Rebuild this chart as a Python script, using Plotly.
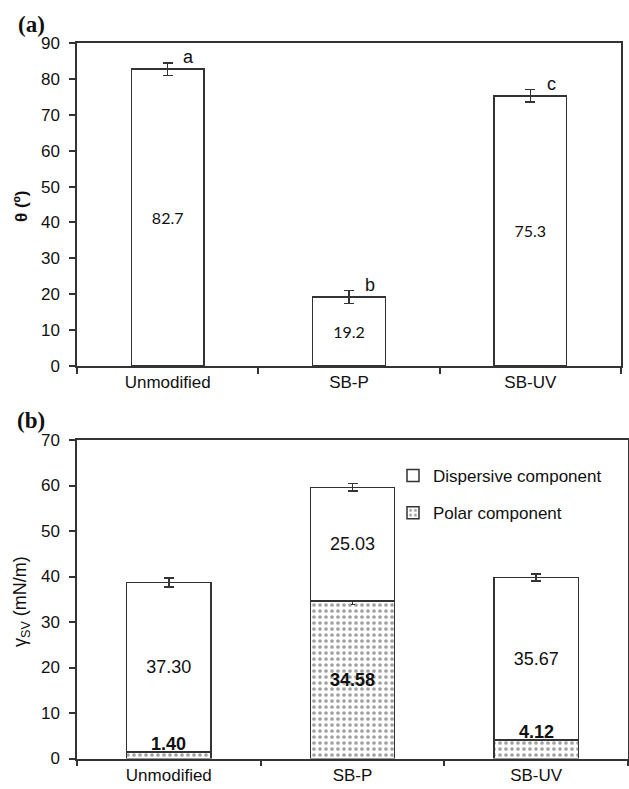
import plotly.graph_objects as go

categories = ["Unmodified", "SB-P", "SB-UV"]

# Panel (a): contact angle
theta = [82.7, 19.2, 75.3]
theta_err = [1.7, 1.8, 1.8]
theta_letters = ["a", "b", "c"]

# Panel (b): surface free energy components
polar = [1.40, 34.58, 4.12]
polar_err = [0.0, 0.8, 0.0]
dispersive = [37.30, 25.03, 35.67]
total_err = [1.0, 0.8, 0.75]

LINE = "#333333"
SANS = "Liberation Sans, Arial, sans-serif"
TICKFONT = dict(family=SANS, size=17, color="#111111")

fig = go.Figure()

# ---- panel (a)
fig.add_trace(go.Bar(
    x=categories, y=theta, width=0.4,
    marker=dict(color="white", line=dict(color=LINE, width=1.5)),
    error_y=dict(type="data", array=theta_err, color=LINE, thickness=1.5, width=5),
    text=[f"{v:.1f}" for v in theta], textposition="inside", insidetextanchor="middle",
    textfont=dict(family="Lato, Open Sans, sans-serif", size=16, color="#111111"),
    showlegend=False, xaxis="x", yaxis="y", hoverinfo="skip",
))

# ---- panel (b)
fig.add_trace(go.Bar(
    x=categories, y=polar, width=0.46, name="Polar component",
    legendgroup="p", legendrank=2,
    marker=dict(color="white", line=dict(color=LINE, width=1.5),
                pattern=dict(shape=".", fgcolor="#444444", bgcolor="white",
                             size=6, solidity=0.3)),
    error_y=dict(type="data", array=polar_err, color=LINE, thickness=1.2, width=2),
    text=[f"{v:.2f}" for v in polar],
    textposition=["none" if v < 10 else "inside" for v in polar],
    insidetextanchor="middle",
    textfont=dict(family=SANS, size=18, color="#111111", weight="bold"),
    xaxis="x2", yaxis="y2", hoverinfo="skip",
))
fig.add_trace(go.Bar(
    x=categories, y=dispersive, width=0.46, name="Dispersive component",
    legendgroup="d", legendrank=1,
    marker=dict(color="white", line=dict(color=LINE, width=1.5)),
    error_y=dict(type="data", array=total_err, color=LINE, thickness=1.5, width=5),
    text=[f"{v:.2f}" for v in dispersive], textposition="inside", insidetextanchor="middle",
    textfont=dict(family=SANS, size=18, color="#111111"),
    xaxis="x2", yaxis="y2", hoverinfo="skip",
))

annotations = []
# significance letters
for c, v, e, L in zip(categories, theta, theta_err, theta_letters):
    annotations.append(dict(x=c, y=v, xref="x", yref="y", text=L, showarrow=False,
                            xanchor="center", yanchor="bottom", xshift=21, yshift=0,
                            font=dict(family=SANS, size=18, color="#111111")))
# small polar labels above bars
for c, v in zip(categories, polar):
    if v < 10:
        annotations.append(dict(x=c, y=v, xref="x2", yref="y2", text=f"{v:.2f}",
                                showarrow=False, yanchor="bottom", yshift=-4,
                                font=dict(family=SANS, size=18, color="#111111",
                                          weight="bold")))
# panel labels
annotations.append(dict(x=31/629, y=1-24/789, xref="paper", yref="paper", text="<b>(a)</b>",
                        showarrow=False, xanchor="center", yanchor="middle",
                        font=dict(family="Liberation Serif, Times New Roman, serif", size=23,
                                  color="#111111")))
annotations.append(dict(x=31/629, y=1-420/789, xref="paper", yref="paper", text="<b>(b)</b>",
                        showarrow=False, xanchor="center", yanchor="middle",
                        font=dict(family="Liberation Serif, Times New Roman, serif", size=23,
                                  color="#111111")))
# axis titles
annotations.append(dict(x=21/629, y=1-207/789, xref="paper", yref="paper", text="<b>θ (º)</b>",
                        showarrow=False, textangle=-90, xanchor="center", yanchor="middle",
                        font=dict(family=SANS, size=17, color="#111111")))
annotations.append(dict(x=21/629, y=1-602/789, xref="paper", yref="paper",
                        text="γ<sub>SV</sub> (mN/m)",
                        showarrow=False, textangle=-90, xanchor="center", yanchor="middle",
                        font=dict(family=SANS, size=18, color="#111111")))

axis_common = dict(showline=True, linecolor=LINE, linewidth=1.5, mirror=True,
                   showgrid=False, zeroline=False, ticks="outside", tickcolor=LINE,
                   tickwidth=1.5, ticklen=6, tickfont=TICKFONT, automargin=False)

fig.update_layout(
    width=629, height=789,
    margin=dict(l=0, r=0, t=0, b=0, autoexpand=False),
    paper_bgcolor="white", plot_bgcolor="white",
    barmode="stack",
    xaxis=dict(domain=[77/629, 621/629], anchor="y", type="category",
               tickson="boundaries", **axis_common),
    yaxis=dict(domain=[1-366/789, 1-43/789], anchor="x", range=[0, 90], dtick=10,
               ticklabelstandoff=6, **axis_common),
    xaxis2=dict(domain=[77/629, 628/629], anchor="y2", type="category",
                tickson="boundaries", **axis_common),
    yaxis2=dict(domain=[1-758.5/789, 1-440/789], anchor="x2", range=[0, 70], dtick=10,
                ticklabelstandoff=6, **axis_common),
    legend=dict(x=393/629, y=1-458/789, xanchor="left", yanchor="top",
                traceorder="grouped", tracegroupgap=12,
                bgcolor="rgba(0,0,0,0)",
                font=dict(family=SANS, size=17, color="#111111")),
    annotations=annotations,
)

fig.write_html("out.html",
               config={"displayModeBar": False},
               post_script="document.body.style.margin='0';document.body.style.overflow='hidden';")
